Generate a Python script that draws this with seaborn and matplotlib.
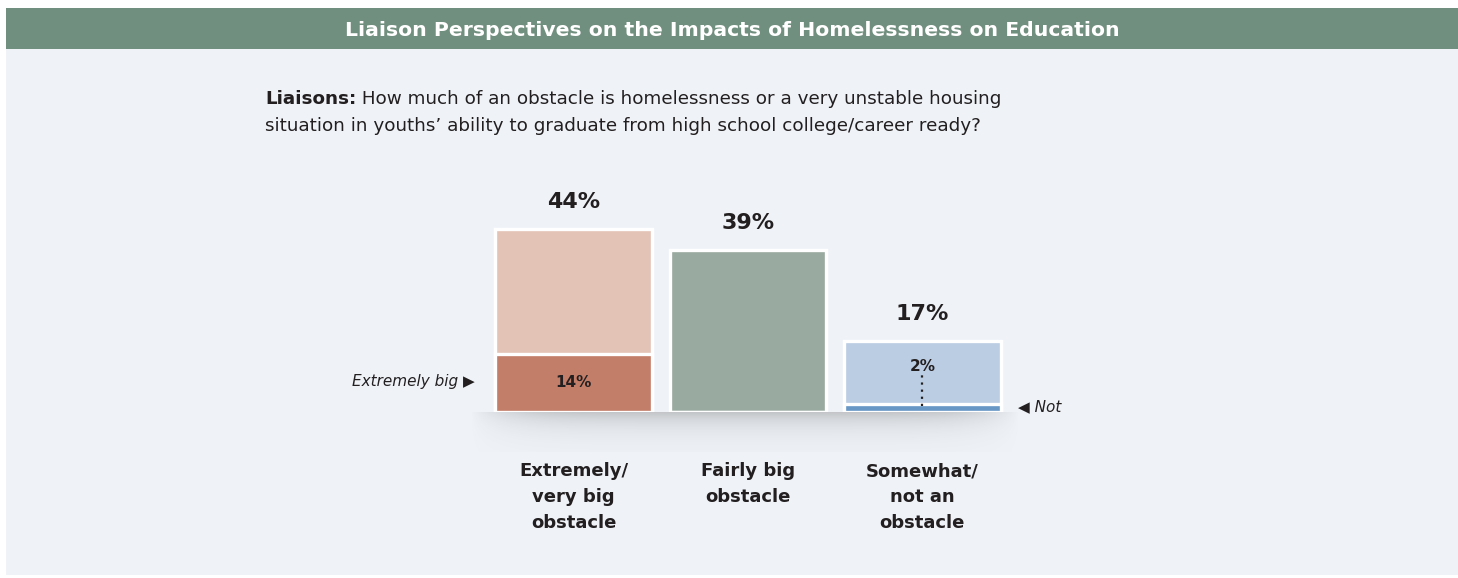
import numpy as np
import pandas as pd
import seaborn as sns
import matplotlib.pyplot as plt
from matplotlib.patches import Rectangle

# datos del grafico
categories = ["Extremely/\nvery big\nobstacle", "Fairly big\nobstacle", "Somewhat/\nnot an\nobstacle"]
totals = [44, 39, 17]
sub_values = [14, 0, 2]
total_colors = ["#e3c3b6", "#99aaa0", "#bacde3"]
sub_colors = ["#c37e69", "#99aaa0", "#6897c6"]

title = "Liaison Perspectives on the Impacts of Homelessness on Education"
q_bold = "Liaisons:"
q_line1 = " How much of an obstacle is homelessness or a very unstable housing"
q_line2 = "situation in youths\u2019 ability to graduate from high school college/career ready?"

W, H = 1458, 578
BG = "#eff3f8"
INK = "#231f20"

df = pd.DataFrame({"cat": categories, "total": totals, "sub": sub_values})

sns.set_theme(style="white")
plt.rcParams["font.family"] = ["DejaVu Sans"]

fig = plt.figure(figsize=(W / 100, H / 100), dpi=100, facecolor="white")

# panel de fondo y barra de titulo
fig.patches.append(Rectangle((6 / W, 3 / H), 1, (H - 52) / H, transform=fig.transFigure,
                             facecolor=BG, edgecolor="none", zorder=-10))
fig.patches.append(Rectangle((6 / W, (H - 49) / H), 1, 41 / H, transform=fig.transFigure,
                             facecolor="#718f7e", edgecolor="none", zorder=-10))
fig.text(732 / W, 1 - 30 / H, title, color="white", fontsize=14.7, fontweight="heavy",
         ha="center", va="center")

# pregunta
t = fig.text(265 / W, 1 - 99 / H, q_bold, color=INK, fontsize=13.2, fontweight="heavy",
             ha="left", va="center")
fig.canvas.draw()
bb = t.get_window_extent()
fig.text(bb.x1 / W, 1 - 99 / H, q_line1, color=INK, fontsize=13.2, ha="left", va="center")
fig.text(265 / W, 1 - 126 / H, q_line2, color=INK, fontsize=13.2, ha="left", va="center")

# sombra bajo las barras
sax = fig.add_axes([470 / W, (H - 452) / H, 550 / W, 40 / H])
xx = np.linspace(-1, 1, 300)
yy = np.linspace(0, 1, 60)
X, Y = np.meshgrid(xx, yy)
alpha = np.exp(-2.8 * Y) * np.clip((1 - np.abs(X) ** 6), 0, 1) * 0.4
img = np.zeros((60, 300, 4))
img[..., :3] = 0.5
img[..., 3] = alpha
sax.imshow(img, aspect="auto", extent=(0, 1, 1, 0))
sax.set_axis_off()

# barras
ax = fig.add_axes([486.5 / W, (H - 412) / H, 523 / W, 207.5 / H])
ax.set_facecolor("none")
sns.barplot(data=df, x="cat", y="total", hue="cat", palette=total_colors, legend=False,
            width=0.9, saturation=1, edgecolor="white", linewidth=2.4, ax=ax, zorder=2)
sns.barplot(data=df, x="cat", y="sub", hue="cat", palette=sub_colors, legend=False,
            width=0.9, saturation=1, edgecolor="white", linewidth=2.4, ax=ax, zorder=3)
ax.set_xlim(-0.5, 2.5)
ax.set_ylim(0, 50)
ax.set_xlabel("")
ax.set_ylabel("")
ax.set_yticks([])
sns.despine(ax=ax, left=True, bottom=True)
ax.tick_params(axis="x", length=0, pad=36)
ax.set_xticks(range(3))
ax.set_xticklabels(categories, fontsize=13, fontweight="bold", color=INK, linespacing=1.58, va="top")

for i, v in enumerate(totals):
    ax.text(i, v + 6.6, f"{v}%", ha="center", va="center", fontsize=16, fontweight="bold",
            color=INK, zorder=5)

ax.text(0, sub_values[0] / 2 + 0.2, f"{sub_values[0]}%", ha="center", va="center",
        fontsize=11, fontweight="bold", color=INK, zorder=5)
ax.text(2, 11, f"{sub_values[2]}%", ha="center", va="center", fontsize=11,
        fontweight="bold", color=INK, zorder=5)
ax.plot([2, 2], [1.4, 8.8], color=INK, linestyle=(0, (1, 2.2)), linewidth=1.6, zorder=5)

ax.text(-0.57, sub_values[0] / 2 + 0.3, "Extremely big \u25b6", ha="right", va="center",
        fontsize=11, fontstyle="italic", color=INK, clip_on=False)
ax.text(2.55, 1.3, "\u25c0 Not", ha="left", va="center",
        fontsize=11, fontstyle="italic", color=INK, clip_on=False)

fig.savefig("out.png", dpi=100, facecolor="white")
